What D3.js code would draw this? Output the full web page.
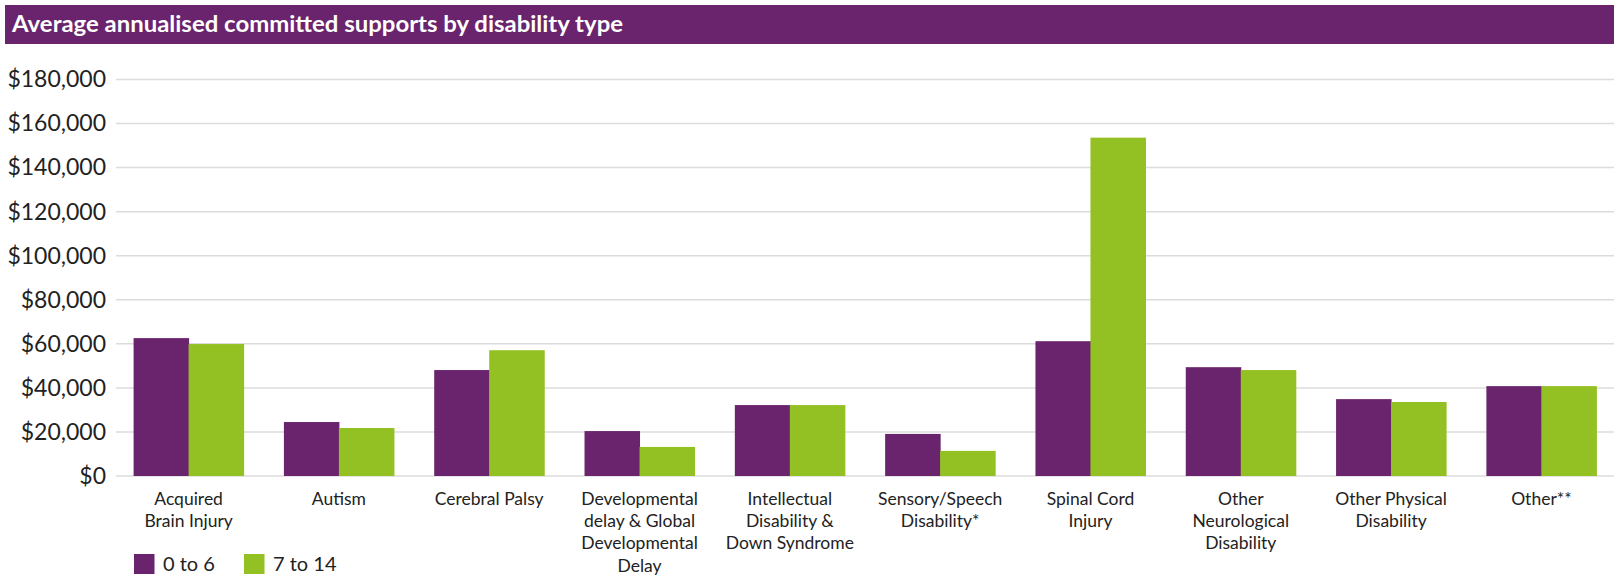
<!DOCTYPE html>
<html><head><meta charset="utf-8">
<script src="https://cdn.jsdelivr.net/npm/d3@7"></script>
<style>
html,body{margin:0;padding:0;background:#fff;}
svg{display:block;font-family:Lato,"Open Sans",sans-serif;}
</style></head>
<body><svg id="chart" width="1619" height="578"></svg>
<script>
const title = "Average annualised committed supports by disability type";
const categories = ["Acquired Brain Injury","Autism","Cerebral Palsy","Developmental delay & Global Developmental Delay","Intellectual Disability & Down Syndrome","Sensory/Speech Disability*","Spinal Cord Injury","Other Neurological Disability","Other Physical Disability","Other**"];
const categoryLines = [["Acquired","Brain Injury"],["Autism"],["Cerebral Palsy"],["Developmental","delay & Global","Developmental","Delay"],["Intellectual","Disability &","Down Syndrome"],["Sensory/Speech","Disability*"],["Spinal Cord","Injury"],["Other","Neurological","Disability"],["Other Physical","Disability"],["Other**"]];
const seriesNames = ["0 to 6","7 to 14"];
const age0to6 = [62600, 24500, 48100, 20400, 32200, 19100, 61200, 49400, 34900, 40800];
const age7to14 = [59900, 21800, 57100, 13200, 32200, 11400, 153600, 48100, 33600, 40800];
const yTicks = [0,20000,40000,60000,80000,100000,120000,140000,160000,180000];
const colors = ["#6a246d","#93c022"];

(function(){
const svg = d3.select("#chart");
// title bar
svg.append("rect").attr("x",5).attr("y",5).attr("width",1609).attr("height",39).attr("fill","#6a246d");
svg.append("text").attr("x",12).attr("y",32).attr("fill","#fff").attr("font-weight","bold")
  .attr("font-size",22).attr("textLength",611).attr("lengthAdjust","spacingAndGlyphs").text(title);

const pLeft = 116, pRight = 1614, pTop = 79.5, pBottom = 476;
const y = d3.scaleLinear().domain([0,180000]).range([pBottom, pTop]);
const x0 = d3.scaleBand().domain(categories).range([pLeft,pRight]).paddingInner(0.268).paddingOuter(0.117);
const x1 = d3.scaleBand().domain(seriesNames).range([0, x0.bandwidth()]);

// gridlines
svg.append("g").selectAll("line").data(yTicks).join("line")
  .attr("x1",pLeft).attr("x2",pRight).attr("y1",d=>y(d)).attr("y2",d=>y(d))
  .attr("stroke","#dcdcdc").attr("stroke-width",1.5);

// y axis
const yAxis = d3.axisLeft(y).tickValues(yTicks).tickSize(0).tickPadding(0)
  .tickFormat(d=>"$"+d3.format(",")(d));
const ga = svg.append("g").attr("transform","translate(106,0)").call(yAxis);
ga.select(".domain").remove();
ga.selectAll("text").attr("font-size",23).attr("fill","#222").attr("font-family","Lato,sans-serif");

// bars
const data = categories.map((c,i)=>({c, vals:[age0to6[i], age7to14[i]]}));
const groups = svg.append("g").selectAll("g").data(data).join("g")
  .attr("transform",d=>`translate(${x0(d.c)},0)`);
groups.selectAll("rect").data(d=>d.vals.map((v,j)=>({s:seriesNames[j], v, j}))).join("rect")
  .attr("x",d=>x1(d.s)).attr("width",x1.bandwidth()+0.5)
  .attr("y",d=>y(d.v)).attr("height",d=>pBottom-y(d.v))
  .attr("fill",d=>colors[d.j]);

// x labels
const lab = svg.append("g").selectAll("text").data(categories).join("text")
  .attr("text-anchor","middle").attr("font-size",17.5).attr("fill","#222")
  .attr("x",d=>x0(d)+x0.bandwidth()/2);
lab.each(function(d,i){
  const t = d3.select(this);
  categoryLines[i].forEach((ln,k)=>{
    t.append("tspan").attr("x",x0(d)+x0.bandwidth()/2).attr("y",505+k*22.2).text(ln);
  });
});

// legend
const legX = [134, 244];
seriesNames.forEach((s,j)=>{
  svg.append("rect").attr("x",legX[j]).attr("y",554).attr("width",20.5).attr("height",20).attr("fill",colors[j]);
  svg.append("text").attr("x",legX[j]+29).attr("y",571).attr("font-size",20).attr("fill","#222").text(s);
});
})();
</script></body></html>
